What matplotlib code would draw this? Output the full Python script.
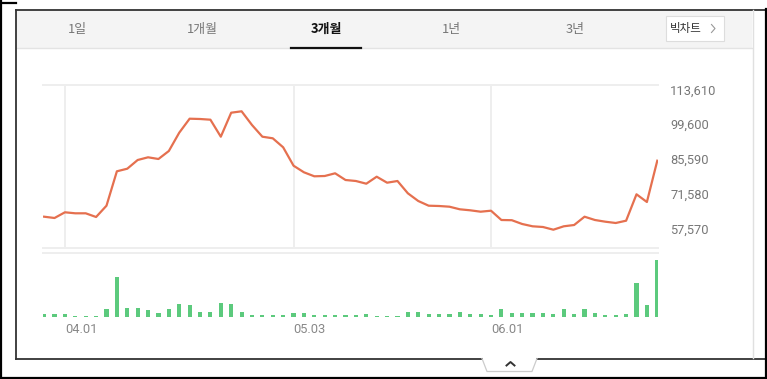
import matplotlib
matplotlib.use('Agg')
import matplotlib.pyplot as plt
from matplotlib.patches import Rectangle
from matplotlib.lines import Line2D

# ---------------- data ----------------
price = [62395, 61873, 64164, 63762, 63762, 62275, 66817, 80646, 81691, 85189,
         86274, 85590, 88807, 96163, 101791, 101671, 101390, 94555, 104203, 104766,
         99258, 94555, 93912, 90294, 82897, 80244, 78636, 78757, 79842, 77149,
         76747, 75661, 78475, 76063, 76747, 71802, 68707, 66817, 66697, 66416,
         65370, 64968, 64405, 64807, 61069, 60988, 59461, 58536, 58255, 57169,
         58536, 59059, 62395, 61069, 60385, 59863, 60787, 71400, 68305, 84907]
volume = [30, 30, 30, 14, 14, 14, 80, 400, 90, 90,
          73, 40, 80, 130, 123, 57, 57, 147, 130, 50,
          20, 20, 20, 20, 40, 40, 20, 20, 20, 20,
          20, 30, 14, 14, 14, 53, 53, 33, 33, 33,
          57, 33, 33, 20, 80, 47, 40, 40, 40, 33,
          80, 33, 87, 40, 20, 20, 33, 347, 120, 573]
date_labels = ['04.01', '05.03', '06.01']
date_pos = [2, 24, 43]
ytick_vals = [57570, 71580, 85590, 99600, 113610]
tabs = ['1일', '1개월', '3개월', '1년', '3년']
active_tab = '3개월'

W, H = 767, 379
fig = plt.figure(figsize=(W / 100, H / 100), dpi=100)
fig.patch.set_facecolor('white')


def fx(x):
    return x / W


def fy(y):
    return 1 - y / H


# ---------------- decoration layer (pixel coords) ----------------
bg = fig.add_axes([0, 0, 1, 1], zorder=0)
bg.set_xlim(0, W)
bg.set_ylim(H, 0)
bg.axis('off')

# tab bar
bg.add_patch(Rectangle((16, 10), 736, 37.5, facecolor='#f4f4f4', edgecolor='none'))
bg.add_line(Line2D([16, 752], [47.5, 47.5], color='#e3e3e3', lw=1))
tab_x = [77, 202, 326, 451, 575]
for t, x in zip(tabs, tab_x):
    act = (t == active_tab)
    bg.text(x, 29, t, ha='center', va='center', fontsize=9.3,
            family=['Noto Sans CJK KR', 'DejaVu Sans'],
            color='#111111' if act else '#777777',
            fontweight='bold' if act else 'normal')
bg.add_line(Line2D([291, 361], [47.5, 47.5], color='#111111', lw=1.6))

# big chart button
bg.add_patch(Rectangle((666, 16), 58, 25, facecolor='white', edgecolor='#dddddd', lw=0.8))
bg.text(670, 28.5, '빅차트', ha='left', va='center', fontsize=8.3,
        family=['Noto Sans CJK KR', 'DejaVu Sans'], color='#333333')
bg.add_line(Line2D([711.5, 715, 711.5], [24.5, 28.5, 32.5], color='#999999', lw=0.8))

# panel borders
dark = '#333333'
bg.add_line(Line2D([15.5, 767], [9.5, 9.5], color=dark, lw=1.3))
bg.add_line(Line2D([15.5, 15.5], [9.5, 358.5], color=dark, lw=1.3))
bg.add_line(Line2D([15.5, 482], [358.5, 358.5], color=dark, lw=1.3))
bg.add_line(Line2D([537, 767], [358.5, 358.5], color=dark, lw=1.3))
bg.add_line(Line2D([752.5, 752.5], [10, 358], color='#e0e0e0', lw=1))
# outer frame
bg.add_line(Line2D([0.7, 0.7], [0, 379], color='black', lw=1.6))
bg.add_line(Line2D([0, 767], [377.6, 377.6], color='black', lw=1.6))
bg.add_line(Line2D([765.6, 765.6], [9, 379], color='black', lw=1.6))
bg.add_line(Line2D([0, 15.5], [2.5, 2.5], color='black', lw=1.6))
# collapse notch
bg.add_line(Line2D([482, 487, 532, 537], [358.5, 371.5, 371.5, 358.5], color='#cccccc', lw=0.9))
bg.add_line(Line2D([506.5, 510.5, 514.5], [365.5, 362, 365.5], color='#333333', lw=1.4))

# ---------------- price chart ----------------
left, right = 43.3, 657.7
ax = fig.add_axes([fx(left), fy(248), (right - left) / W, (248 - 85) / H], zorder=2)
ax.set_facecolor('none')
n = len(price)
xs = list(range(n))
ax.set_xlim(-0.08, n - 1 + 0.04)
ax.set_ylim(49813, 115339)
for p in date_pos:
    ax.axvline(p, color='#eeeeee', lw=1.4, zorder=0)
ax.plot(xs, price, color='#e5704f', lw=1.6, solid_joinstyle='round', zorder=3)
for s in ['left', 'right']:
    ax.spines[s].set_visible(False)
for s in ['top', 'bottom']:
    ax.spines[s].set_color('#eeeeee')
    ax.spines[s].set_linewidth(1.4)
ax.set_xticks([])
ax.yaxis.tick_right()
ax.set_yticks(ytick_vals)
ax.set_yticklabels([f'{v:,}' for v in ytick_vals])
ax.tick_params(axis='y', length=0, pad=9, labelsize=9.3, labelcolor='#777777')
for lbl in ax.get_yticklabels():
    lbl.set_family(['Roboto', 'DejaVu Sans'])

# ---------------- volume chart ----------------
ax2 = fig.add_axes([fx(left), fy(317.3), (right - left) / W, (317.3 - 253.3) / H], zorder=2)
ax2.set_facecolor('none')
ax2.set_xlim(-0.08, n - 1 + 0.04)
ax2.set_ylim(0, max(volume) * 64 / 57.3)
ax2.bar(xs, volume, width=0.4, color='#5cca7d', linewidth=0)
for s in ['left', 'right', 'bottom']:
    ax2.spines[s].set_visible(False)
ax2.spines['top'].set_color('#eeeeee')
ax2.spines['top'].set_linewidth(1.4)
ax2.set_yticks([])
ax2.set_xticks(date_pos)
ax2.set_xticklabels(date_labels)
ax2.tick_params(axis='x', length=0, pad=4, labelsize=9.3, labelcolor='#888888')
for lbl in ax2.get_xticklabels():
    lbl.set_ha('left')
    lbl.set_family(['Roboto', 'DejaVu Sans'])

fig.savefig('out.png', dpi=100)
